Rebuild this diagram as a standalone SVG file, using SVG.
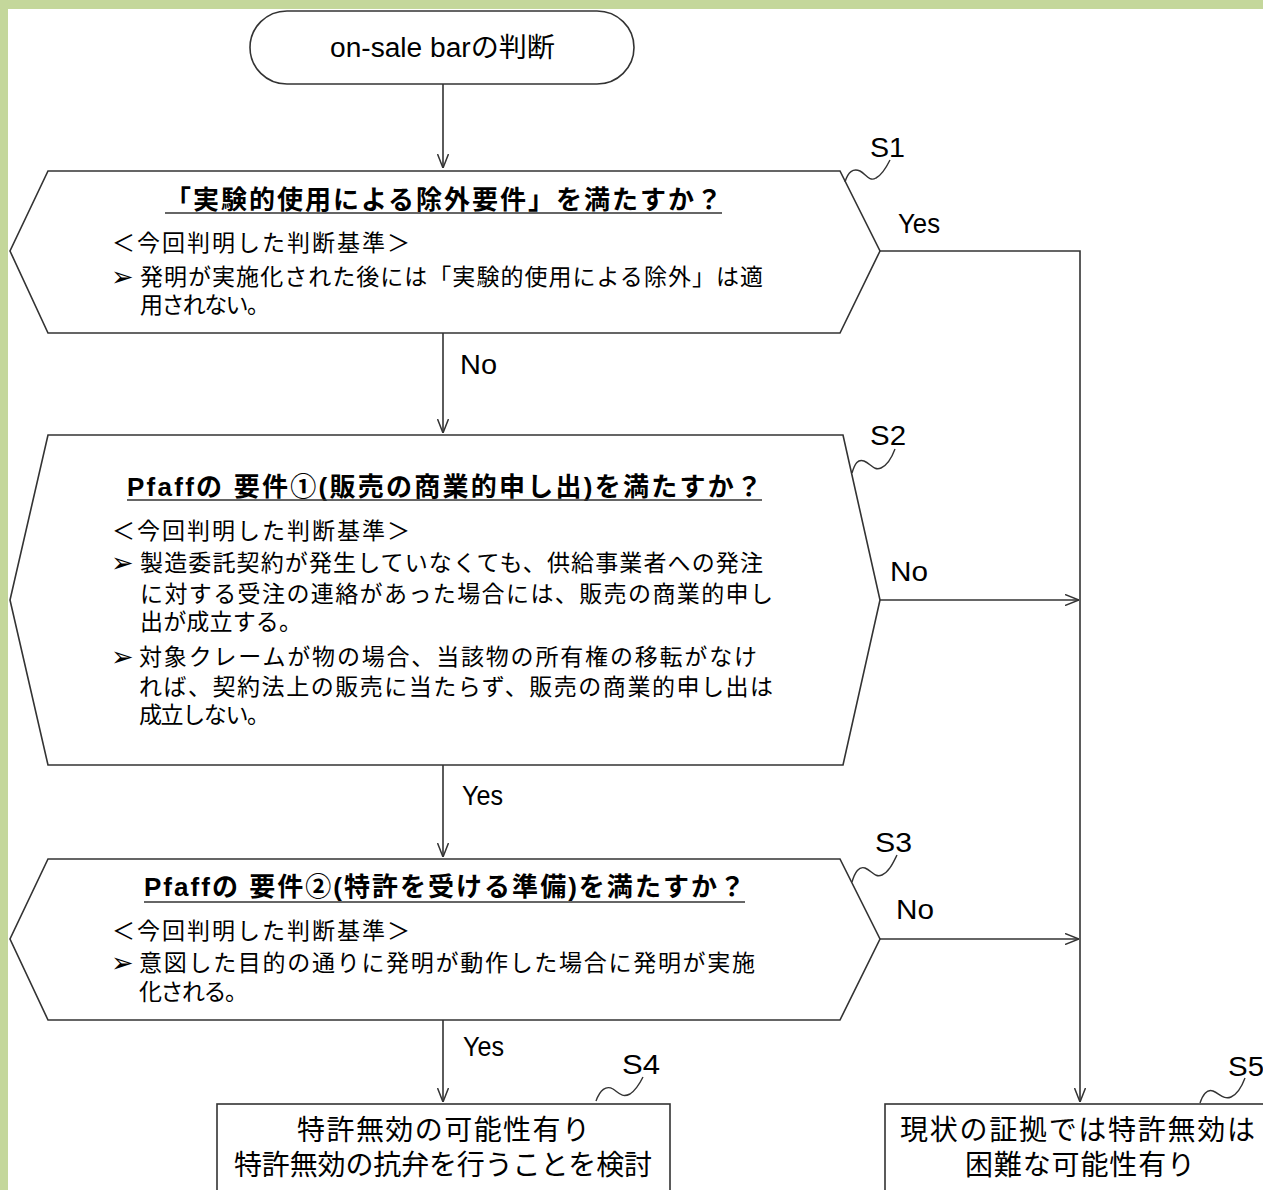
<svg xmlns="http://www.w3.org/2000/svg" width="1263" height="1190" viewBox="0 0 1263 1190">
<defs>
<marker id="arr" viewBox="0 0 14 12" refX="14" refY="6" markerWidth="14" markerHeight="12" markerUnits="userSpaceOnUse" orient="auto">
<path d="M0,0.5 L14,6 L0,11.5" fill="none" stroke="#333" stroke-width="1.5"/>
</marker>
<style>
.sh{fill:#fff;stroke:#333;stroke-width:1.6}
.ln{fill:none;stroke:#333;stroke-width:1.6}
.sq{fill:none;stroke:#333;stroke-width:1.4}
.t{font-family:'Liberation Sans','Noto Sans CJK JP',sans-serif;fill:#000}
.jp{font-size:23px}
.tt{font-size:26px;font-weight:bold}
.lb{font-size:27px}
.bx{font-size:28px}
.bu{font-family:'DejaVu Sans',sans-serif;font-size:27px;fill:#000}
</style>
</defs>
<rect x="0" y="0" width="1263" height="1190" fill="#fff"/>
<rect x="0" y="0" width="1263" height="9" fill="#c4d79b"/>
<rect x="0" y="0" width="8" height="1190" fill="#c4d79b"/>

<g id="connectors">
<path class="ln" d="M443,84 V168" marker-end="url(#arr)"/>
<path class="ln" d="M443,333 V433" marker-end="url(#arr)"/>
<path class="ln" d="M443,765 V857" marker-end="url(#arr)"/>
<path class="ln" d="M443,1020 V1102" marker-end="url(#arr)"/>
<path class="ln" d="M880,251 H1080 V1102" marker-end="url(#arr)"/>
<path class="ln" d="M880,600 H1079" marker-end="url(#arr)"/>
<path class="ln" d="M880,939 H1079" marker-end="url(#arr)"/>
<text class="t lb" x="898" y="233" textLength="42" lengthAdjust="spacingAndGlyphs">Yes</text>
<text class="t lb" x="460" y="374" textLength="37" lengthAdjust="spacingAndGlyphs">No</text>
<text class="t lb" x="890" y="581" textLength="38" lengthAdjust="spacingAndGlyphs">No</text>
<text class="t lb" x="462" y="805" textLength="41" lengthAdjust="spacingAndGlyphs">Yes</text>
<text class="t lb" x="896" y="919" textLength="38" lengthAdjust="spacingAndGlyphs">No</text>
<text class="t lb" x="463" y="1056" textLength="41" lengthAdjust="spacingAndGlyphs">Yes</text>
</g>

<g id="start">
<rect class="sh" x="250" y="11" width="384" height="73" rx="37" ry="36.5"/>
<text class="t lb" x="330" y="57" textLength="225" lengthAdjust="spacingAndGlyphs">on-sale barの判断</text>
</g>

<g id="S1">
<path class="sh" d="M48,171 H840 L880,251 L840,333 H48 L10,251 Z"/>
<text class="t tt" x="165" y="209" textLength="557">「実験的使用による除外要件」を満たすか？</text>
<path class="ln" d="M165,213 H722" stroke-width="1.5"/>
<text class="t jp" x="112" y="251" textLength="298">＜今回判明した判断基準＞</text>
<text class="bu" x="111" y="286">➢</text>
<text class="t jp" x="140" y="285" textLength="623">発明が実施化された後には「実験的使用による除外」は適</text>
<text class="t jp" x="140" y="313" textLength="130">用されない。</text>
<path class="sq" d="M845,182 C848,172 853,168 860,171 C866,174 869,182 876,178 C882,175 886,168 890,160"/>
<text class="t lb" x="870" y="157" textLength="35" lengthAdjust="spacingAndGlyphs">S1</text>
</g>

<g id="S2">
<path class="sh" d="M48,435 H843 L880,600 L843,765 H48 L10,600 Z"/>
<text class="t tt" x="127" y="496" textLength="635">Pfaffの 要件①(販売の商業的申し出)を満たすか？</text>
<path class="ln" d="M127,500 H762" stroke-width="1.5"/>
<text class="t jp" x="112" y="539" textLength="298">＜今回判明した判断基準＞</text>
<text class="bu" x="111" y="572">➢</text>
<text class="t jp" x="140" y="571" textLength="623">製造委託契約が発生していなくても、供給事業者への発注</text>
<text class="t jp" x="140" y="602" textLength="633">に対する受注の連絡があった場合には、販売の商業的申し</text>
<text class="t jp" x="140" y="630" textLength="162">出が成立する。</text>
<text class="bu" x="111" y="666">➢</text>
<text class="t jp" x="139" y="665" textLength="618">対象クレームが物の場合、当該物の所有権の移転がなけ</text>
<text class="t jp" x="139" y="695" textLength="634">れば、契約法上の販売に当たらず、販売の商業的申し出は</text>
<text class="t jp" x="139" y="723" textLength="131">成立しない。</text>
<path class="sq" d="M852,473 C855,463 858,459 864,461 C871,464 874,471 881,468 C888,465 892,457 895,449"/>
<text class="t lb" x="870" y="445" textLength="36" lengthAdjust="spacingAndGlyphs">S2</text>
</g>

<g id="S3">
<path class="sh" d="M48,859 H840 L880,939 L840,1020 H48 L10,939 Z"/>
<text class="t tt" x="144" y="896" textLength="601">Pfaffの 要件②(特許を受ける準備)を満たすか？</text>
<path class="ln" d="M144,902 H745" stroke-width="1.5"/>
<text class="t jp" x="112" y="939" textLength="298">＜今回判明した判断基準＞</text>
<text class="bu" x="111" y="972">➢</text>
<text class="t jp" x="139" y="971" textLength="616">意図した目的の通りに発明が動作した場合に発明が実施</text>
<text class="t jp" x="139" y="1000" textLength="109">化される。</text>
<path class="sq" d="M852,882 C855,872 859,866 865,868 C872,871 875,878 882,875 C889,872 893,863 897,855"/>
<text class="t lb" x="875" y="852" textLength="37" lengthAdjust="spacingAndGlyphs">S3</text>
</g>

<g id="S4">
<rect class="sh" x="217" y="1104" width="453" height="100"/>
<text class="t bx" x="297" y="1140" textLength="293">特許無効の可能性有り</text>
<text class="t bx" x="234" y="1175" textLength="418">特許無効の抗弁を行うことを検討</text>
<path class="sq" d="M596,1101 C600,1090 606,1085 613,1089 C619,1093 622,1098 630,1094 C636,1090 640,1083 643,1077"/>
<text class="t lb" x="622" y="1074" textLength="38" lengthAdjust="spacingAndGlyphs">S4</text>
</g>

<g id="S5">
<rect class="sh" x="885" y="1104" width="400" height="100"/>
<text class="t bx" x="900" y="1140" textLength="355">現状の証拠では特許無効は</text>
<text class="t bx" x="965" y="1175" textLength="230">困難な可能性有り</text>
<path class="sq" d="M1200,1103 C1203,1094 1207,1089 1213,1091 C1220,1094 1224,1100 1231,1097 C1238,1094 1242,1086 1245,1078"/>
<text class="t lb" x="1228" y="1076" textLength="36" lengthAdjust="spacingAndGlyphs">S5</text>
</g>
</svg>
